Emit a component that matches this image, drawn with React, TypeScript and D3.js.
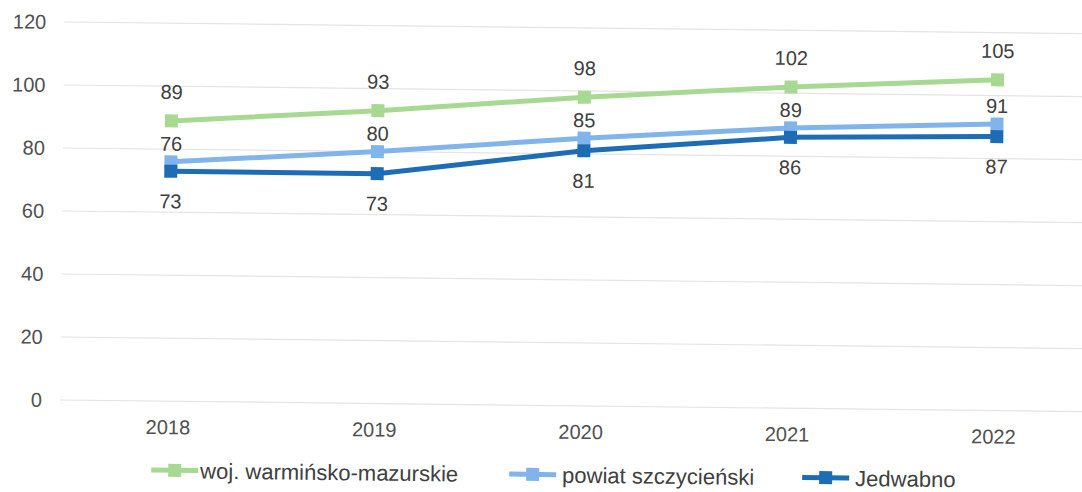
import React from "react";
import { scaleBand, scaleLinear, line } from "d3";

const years = ["2018", "2019", "2020", "2021", "2022"];
const wojValues = [89, 93, 98, 102, 105];
const powiatValues = [76, 80, 85, 89, 91];
const jedwabnoValues = [73, 73, 81, 86, 87];
const yTicks = [0, 20, 40, 60, 80, 100, 120];

const seriesList = [
  { name: "woj. warmińsko-mazurskie", values: wojValues, color: "#a8d992", labelDy: -22 },
  { name: "powiat szczycieński", values: powiatValues, color: "#82b4ec", labelDy: -11 },
  { name: "Jedwabno", values: jedwabnoValues, color: "#1c6db5", labelDy: 37 },
];

const W = 1082;
const H = 492;
const font = "'Liberation Sans', Arial, sans-serif";

export default function App() {
  const x = scaleBand().domain(years).range([65, 1097]);
  const y = scaleLinear().domain([0, 120]).range([400, 22]);
  const cx = (d: string) => (x(d) as number) + x.bandwidth() / 2;
  const path = line<number>()
    .x((_, i) => cx(years[i]))
    .y((v) => y(v));

  // legend: marker+line, then text
  const legendItems = [
    { lx: 152, tx: 201 },
    { lx: 510, tx: 563 },
    { lx: 803, tx: 856 },
  ];

  return (
    <svg
      width={W}
      height={H}
      style={{ position: "absolute", left: 0, top: 0, background: "#fff" }}
      fontFamily={font}
    >
      {/* the scan is tilted a bit */}
      <g transform="rotate(0.65 60 400)">
        {yTicks.map((t) => (
          <g key={t}>
            <line x1={60} x2={1110} y1={y(t)} y2={y(t)} stroke="#e4e4e4" strokeWidth={1.2} />
            <text x={42} y={y(t) + 7} textAnchor="end" fontSize={20} fill="#505050">
              {t}
            </text>
          </g>
        ))}
        {years.map((yr) => (
          <text key={yr} x={cx(yr)} y={433} textAnchor="middle" fontSize={20} fill="#505050">
            {yr}
          </text>
        ))}

        {seriesList.map((s) => (
          <g key={s.name}>
            <path d={path(s.values) || ""} fill="none" stroke={s.color} strokeWidth={5} />
            {s.values.map((v, i) => (
              <rect
                key={i}
                x={cx(years[i]) - 6.5}
                y={y(v) - 6.5}
                width={13}
                height={13}
                fill={s.color}
              />
            ))}
            {s.values.map((v, i) => (
              <text
                key={"l" + i}
                x={cx(years[i])}
                y={y(v) + s.labelDy}
                textAnchor="middle"
                fontSize={20}
                fill="#404040"
              >
                {v}
              </text>
            ))}
          </g>
        ))}

        {seriesList.map((s, i) => (
          <g key={"lg" + i}>
            <line
              x1={legendItems[i].lx}
              x2={legendItems[i].lx + 47}
              y1={469}
              y2={469}
              stroke={s.color}
              strokeWidth={5}
            />
            <rect x={legendItems[i].lx + 17} y={462.5} width={13} height={13} fill={s.color} />
            <text x={legendItems[i].tx} y={477} fontSize={22} fill="#404040">
              {s.name}
            </text>
          </g>
        ))}
      </g>
    </svg>
  );
}
